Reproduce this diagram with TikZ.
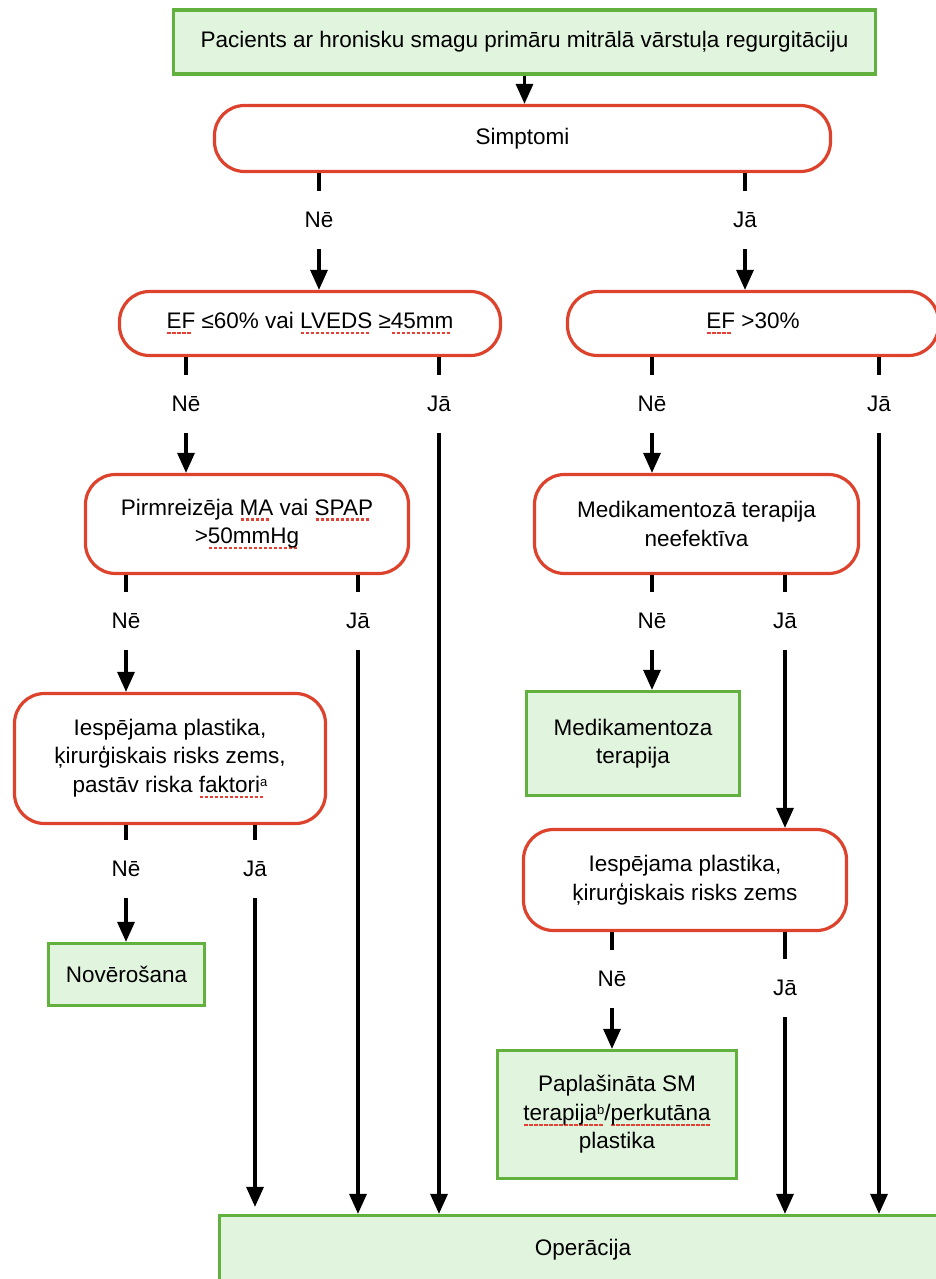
\documentclass[tikz,border=0pt]{standalone}
\usepackage{fontspec}
\setmainfont{Liberation Sans}
\usetikzlibrary{arrows.meta}
\definecolor{rred}{RGB}{221,66,44}
\definecolor{ggreen}{RGB}{98,176,62}
\definecolor{gfill}{RGB}{225,244,221}
\definecolor{sqred}{RGB}{228,64,52}
\newsavebox\sqbox
\newcommand\sq[1]{\sbox\sqbox{#1}\rlap{\raisebox{-5.5pt}{\textcolor{sqred}{\leaders\hbox to 5pt{\hss\rule{3.4pt}{2.2pt}\hss}\hskip\wd\sqbox}}}#1}
\newcommand\supr[1]{\raisebox{6pt}{\fontsize{13}{13}\selectfont #1}}
\tikzset{
  every node/.style={font=\fontsize{22.5}{28.5}\selectfont, align=center, inner sep=0pt},
  gbox/.style={draw=ggreen, fill=gfill, line width=3.2pt, rectangle},
  rbox/.style={draw=rred, fill=white, line width=3.2pt, rectangle, rounded corners=30pt},
  lbl/.style={minimum height=58pt, minimum width=30pt},
  conn/.style={line width=3.2pt, black},
  arr/.style={conn, -{Triangle[length=20pt,width=17pt]}},
}
\begin{document}
\begin{tikzpicture}[x=1pt,y=-1pt]
\useasboundingbox (0,0) rectangle (936,1279);
\clip (0,0) rectangle (936,1279);
% boxes
\node[gbox, minimum width=702pt, minimum height=64pt] (top) at (524.5,42) {Pacients ar hronisku smagu primāru mitrālā vārstuļa regurgitāciju};
\node[rbox, minimum width=616pt, minimum height=66pt] (simp) at (522.5,138.5) {Simptomi};
\node[rbox, minimum width=381pt, minimum height=64pt] (ef60) at (310,323.5) {\sq{EF} ≤60\% vai \sq{LVEDS} ≥\sq{45mm}};
\node[rbox, minimum width=371pt, minimum height=64pt] (ef30) at (753,323.5) {\sq{EF} >30\%};
\node[rbox, minimum width=323pt, minimum height=99pt] (pirm) at (247,524) {Pirmreizēja \sq{MA} vai \sq{SPAP}\\>\sq{50mmHg}};
\node[rbox, minimum width=324pt, minimum height=99pt] (medne) at (696.5,524) {Medikamentozā terapija\\neefektīva};
\node[rbox, minimum width=311pt, minimum height=130pt] (iesp1) at (170,758.5) {Iespējama plastika,\\ķirurģiskais risks zems,\\pastāv riska \sq{faktori\supr{a}}};
\node[gbox, minimum width=213pt, minimum height=104pt] (medt) at (633,743.5) {Medikamentoza\\terapija};
\node[rbox, minimum width=323pt, minimum height=101pt] (iesp2) at (685,880) {Iespējama plastika,\\ķirurģiskais risks zems};
\node[gbox, minimum width=156pt, minimum height=62pt] (nov) at (126.5,974.5) {Novērošana};
\node[gbox, minimum width=239pt, minimum height=128pt] (papl) at (617,1114.5) {Paplašināta SM\\\sq{terapija\supr{b}}/\sq{perkutāna}\\plastika};
\node[gbox, minimum width=727pt, minimum height=69pt] (oper) at (583,1250) {Operācija};
% labels
\node[lbl] (n1) at (319,220) {Nē};
\node[lbl] (j1) at (745,220) {Jā};
\node[lbl] (n2) at (186,404) {Nē};
\node[lbl] (j2) at (439,404) {Jā};
\node[lbl] (n3) at (652,404) {Nē};
\node[lbl] (j3) at (879,404) {Jā};
\node[lbl] (n4) at (126,621) {Nē};
\node[lbl] (j4) at (358,621) {Jā};
\node[lbl] (n5) at (652,621) {Nē};
\node[lbl] (j5) at (785,621) {Jā};
\node[lbl] (n6) at (126,869) {Nē};
\node[lbl] (j6) at (255,869) {Jā};
\node[lbl] (n7) at (612,979) {Nē};
\node[lbl] (j7) at (785,988) {Jā};
% connectors
\draw[arr] (top.south) -- (simp.north -| top.south);
\foreach \l/\a/\b in {n1/simp/ef60, j1/simp/ef30, n2/ef60/pirm, n3/ef30/medne, n4/pirm/iesp1, n5/medne/medt, n6/iesp1/nov, n7/iesp2/papl, j5/medne/iesp2}{
  \draw[conn] (\a.south -| \l.north) -- (\l.north);
  \draw[arr] (\l.south) -- (\b.north -| \l.south);
}
\foreach \l/\a in {j2/ef60, j3/ef30, j4/pirm, j7/iesp2}{
  \draw[conn] (\a.south -| \l.north) -- (\l.north);
  \draw[arr] (\l.south) -- (oper.north -| \l.south);
}
\draw[conn] (iesp1.south -| j6.north) -- (j6.north);
\draw[arr, shorten >=7pt] (j6.south) -- (oper.north -| j6.south);
\end{tikzpicture}
\end{document}
